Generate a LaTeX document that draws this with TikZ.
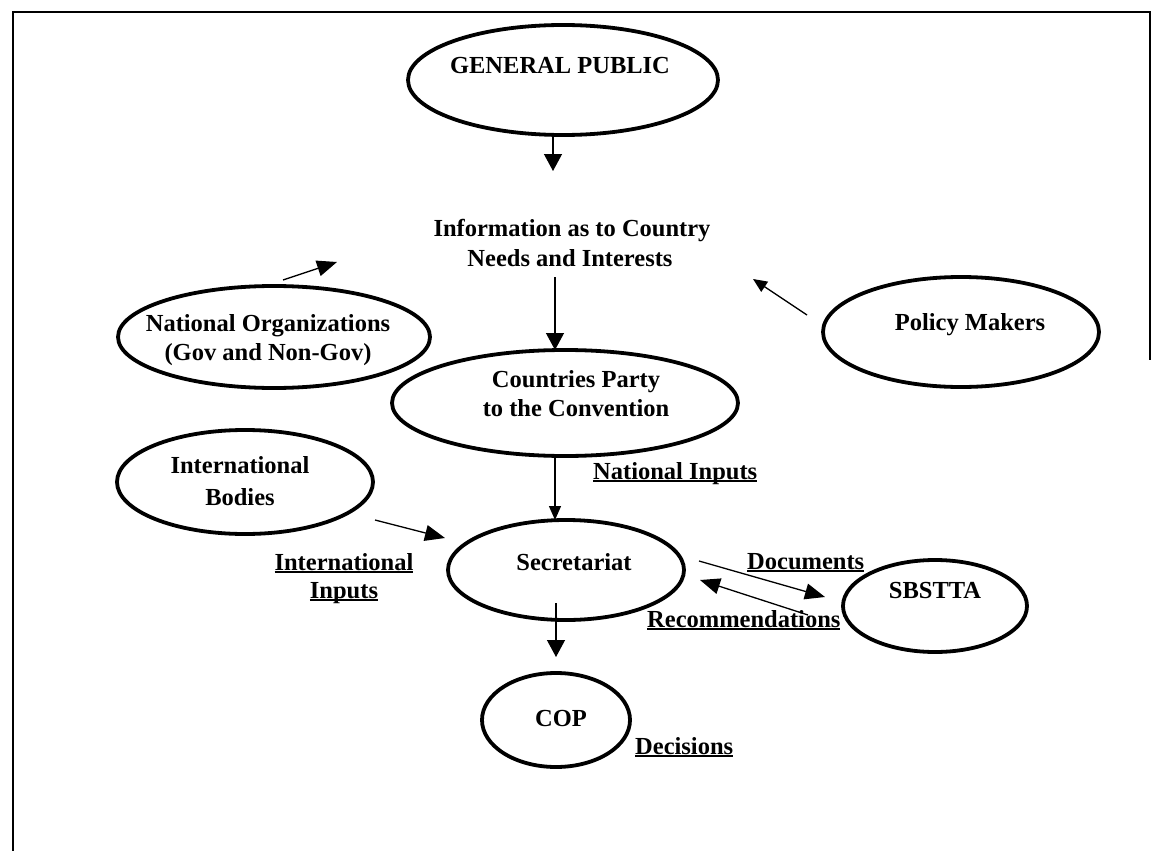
\documentclass[tikz,border=0pt]{standalone}
\usepackage{fontspec}
\setmainfont{Liberation Serif}
\usetikzlibrary{arrows.meta,shapes.geometric}
\newcommand\ulbox[1]{\leavevmode\setbox0\hbox{#1}\rlap{\rule[-3pt]{\wd0}{1.8pt}}\box0}
\begin{document}
\begin{tikzpicture}[x=1pt,y=-1pt,
  every node/.style={font=\fontsize{24.5}{29}\selectfont\bfseries},
  oval/.style={draw, ellipse, line width=3.8pt, inner sep=0pt},
  lbl/.style={inner sep=0pt},
  arr/.style={line width=1.3pt, -{Triangle[width=18pt,length=17pt]}},
  arrs/.style={line width=1.3pt, -{Triangle[width=12pt,length=14pt]}},
  arrm/.style={line width=1.3pt, -{Triangle[width=16pt,length=20pt]}}]
\useasboundingbox (0,0) rectangle (1152,851);
% partial frame
\draw[line width=1.3pt] (13,851) -- (13,12) -- (1150,12) -- (1150,360);

% ellipses
\node[oval, minimum width=310pt, minimum height=110pt] (gp) at (563,80) {};
\node[oval, minimum width=312pt, minimum height=102pt] (natorg) at (274,337) {};
\node[oval, minimum width=276pt, minimum height=110pt] (policy) at (961,332) {};
\node[oval, minimum width=346pt, minimum height=106pt] (countries) at (565,403) {};
\node[oval, minimum width=256pt, minimum height=104pt] (intl) at (245,482) {};
\node[oval, minimum width=236pt, minimum height=100pt] (secr) at (566,570) {};
\node[oval, minimum width=184pt, minimum height=92pt] (sbstta) at (935,606) {};
\node[oval, minimum width=148pt, minimum height=94pt] (cop) at (556,720) {};

% texts
\node[lbl, anchor=base] (gpt) at (560,74) {GENERAL PUBLIC};
\node[lbl, anchor=base] (info) at (572,236) {Information as to Country};
\node[lbl, anchor=base] (infob) at (570,266) {Needs and Interests};
\node[lbl, anchor=base] (natorgt) at (268,331) {National Organizations};
\node[lbl, anchor=base] (natorgtb) at (268,360) {(Gov and Non-Gov)};
\node[lbl, anchor=base] (policyt) at (970,330) {Policy Makers};
\node[lbl, anchor=base] (countriest) at (576,387) {Countries Party};
\node[lbl, anchor=base] (countriestb) at (576,416) {to the Convention};
\node[lbl, anchor=base] (intlt) at (240,473) {International};
\node[lbl, anchor=base] (intltb) at (240,505) {Bodies};
\node[lbl, anchor=base] (secrt) at (574,570) {Secretariat};
\node[lbl, anchor=base] (sbsttat) at (935,598) {SBSTTA};
\node[lbl, anchor=base] (copt) at (561,726) {COP};

% underlined labels
\node[lbl, anchor=base west] (natin) at (593,479) {\ulbox{National Inputs}};
\node[lbl, anchor=base] (intin) at (344,570) {\ulbox{International}};
\node[lbl, anchor=base] (intinb) at (344,598) {\ulbox{Inputs}};
\node[lbl, anchor=base west] (docs) at (747,569) {\ulbox{Documents}};
\node[lbl, anchor=base west] (recs) at (647,627) {\ulbox{Recommendations}};
\node[lbl, anchor=base west] (decs) at (635,754) {\ulbox{Decisions}};

% connector end points
\coordinate (gpA) at (553,135);   \coordinate (gpB) at (553,171);
\coordinate (infA) at (555,277);  \coordinate (infB) at (555,350);
\coordinate (noA) at (283,280);   \coordinate (noB) at (337,262);
\coordinate (pmA) at (807,315);   \coordinate (pmB) at (753,279);
\coordinate (cpA) at (555,457);   \coordinate (cpB) at (555,520);
\coordinate (ibA) at (375,520);   \coordinate (ibB) at (445,538);
\coordinate (dcA) at (699,561);   \coordinate (dcB) at (825,597);
\coordinate (rcA) at (808,615);   \coordinate (rcB) at (700,580);
\coordinate (scA) at (556,603);   \coordinate (scB) at (556,657);

\draw[arr] (gpA) -- (gpB);
\draw[arr] (infA) -- (infB);
\draw[arrm] (noA) -- (noB);
\draw[arrs] (pmA) -- (pmB);
\draw[arrs] (cpA) -- (cpB);
\draw[arrm] (ibA) -- (ibB);
\draw[arrm] (dcA) -- (dcB);
\draw[arrm] (rcA) -- (rcB);
\draw[arr] (scA) -- (scB);
\end{tikzpicture}
\end{document}
